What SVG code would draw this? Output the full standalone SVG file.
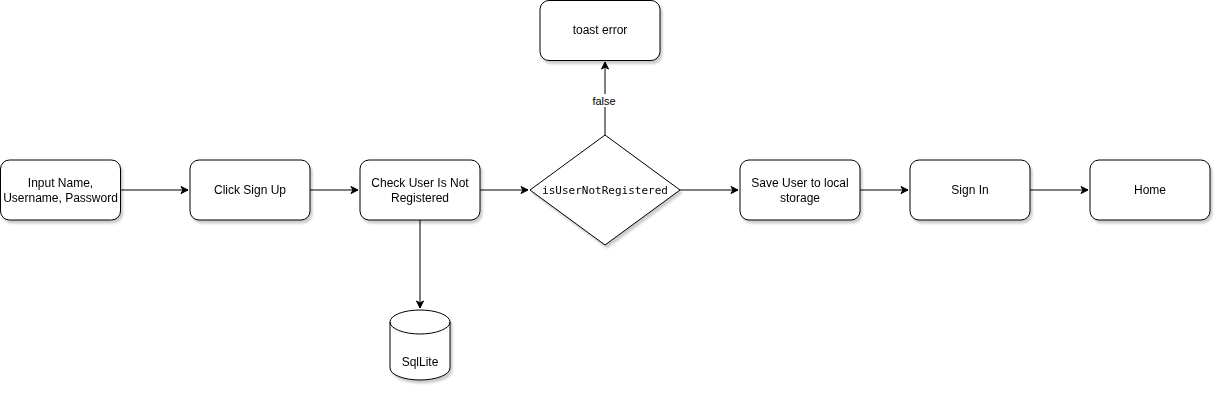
<svg xmlns="http://www.w3.org/2000/svg" width="1222" height="402" viewBox="0 0 1222 402">
<style>
.n{fill:#fff;stroke:#000;stroke-width:1}
.t{font-family:"Liberation Sans",Arial,sans-serif;font-size:12px;fill:#000;text-anchor:middle}
.m{font-family:"DejaVu Sans Mono",monospace;font-size:11px;fill:#000;text-anchor:middle}
.c{fill:none;stroke:#000;stroke-width:1}
</style>
<defs>
<marker id="a" markerWidth="10" markerHeight="10" refX="8" refY="5" orient="auto" markerUnits="userSpaceOnUse">
<path d="M1,1.5 L8,5 L1,8.5 L3,5 Z" fill="#000" stroke="#000" stroke-width="1"/>
</marker>
<filter id="s" x="-10%" y="-10%" width="130%" height="130%">
<feDropShadow dx="2" dy="3" stdDeviation="1.2" flood-color="#000" flood-opacity="0.2"/>
</filter>
</defs>
<g id="connectors">
<path class="c" d="M120,190 L188,190" marker-end="url(#a)"/>
<path class="c" d="M310,190 L358,190" marker-end="url(#a)"/>
<path class="c" d="M480,190 L528,190" marker-end="url(#a)"/>
<path class="c" d="M680,190 L738,190" marker-end="url(#a)"/>
<path class="c" d="M860,190 L908,190" marker-end="url(#a)"/>
<path class="c" d="M1030,190 L1088,190" marker-end="url(#a)"/>
<path class="c" d="M420,220 L420,308" marker-end="url(#a)"/>
<path class="c" d="M605,135 L605,62" marker-end="url(#a)"/>
<rect x="591" y="94" width="26" height="13" fill="#fff"/>
<text class="t" x="604" y="104.5" style="font-size:11px">false</text>
</g>
<g id="input" filter="url(#s)">
<rect class="n" x="0.5" y="160" width="120" height="60" rx="9"/>
<text class="t" x="60.5" y="187">Input Name,</text>
<text class="t" x="60.5" y="202">Username, Password</text>
</g>
<g id="click" filter="url(#s)">
<rect class="n" x="190" y="160" width="120" height="60" rx="9"/>
<text class="t" x="250" y="194">Click Sign Up</text>
</g>
<g id="check" filter="url(#s)">
<rect class="n" x="360" y="160" width="120" height="60" rx="9"/>
<text class="t" x="420" y="187">Check User Is Not</text>
<text class="t" x="420" y="202">Registered</text>
</g>
<g id="decision" filter="url(#s)">
<path class="n" d="M605,135 L680,190 L605,245 L530,190 Z"/>
<text class="m" x="605" y="194">isUserNotRegistered</text>
</g>
<g id="toast" filter="url(#s)">
<rect class="n" x="540" y="0.5" width="120" height="60" rx="9"/>
<text class="t" x="600" y="34">toast error</text>
</g>
<g id="save" filter="url(#s)">
<rect class="n" x="740" y="160" width="120" height="60" rx="9"/>
<text class="t" x="800" y="187">Save User to local</text>
<text class="t" x="800" y="202">storage</text>
</g>
<g id="signin" filter="url(#s)">
<rect class="n" x="910" y="160" width="120" height="60" rx="9"/>
<text class="t" x="970" y="194">Sign In</text>
</g>
<g id="home" filter="url(#s)">
<rect class="n" x="1090" y="160" width="120" height="60" rx="9"/>
<text class="t" x="1150" y="194">Home</text>
</g>
<g id="sqlite" filter="url(#s)">
<path class="n" d="M390,322 A30,12 0 0 1 450,322 L450,368 A30,12 0 0 1 390,368 Z"/>
<path class="c" d="M390,322 A30,12 0 0 0 450,322"/>
<text class="t" x="420" y="366">SqlLite</text>
</g>
</svg>
